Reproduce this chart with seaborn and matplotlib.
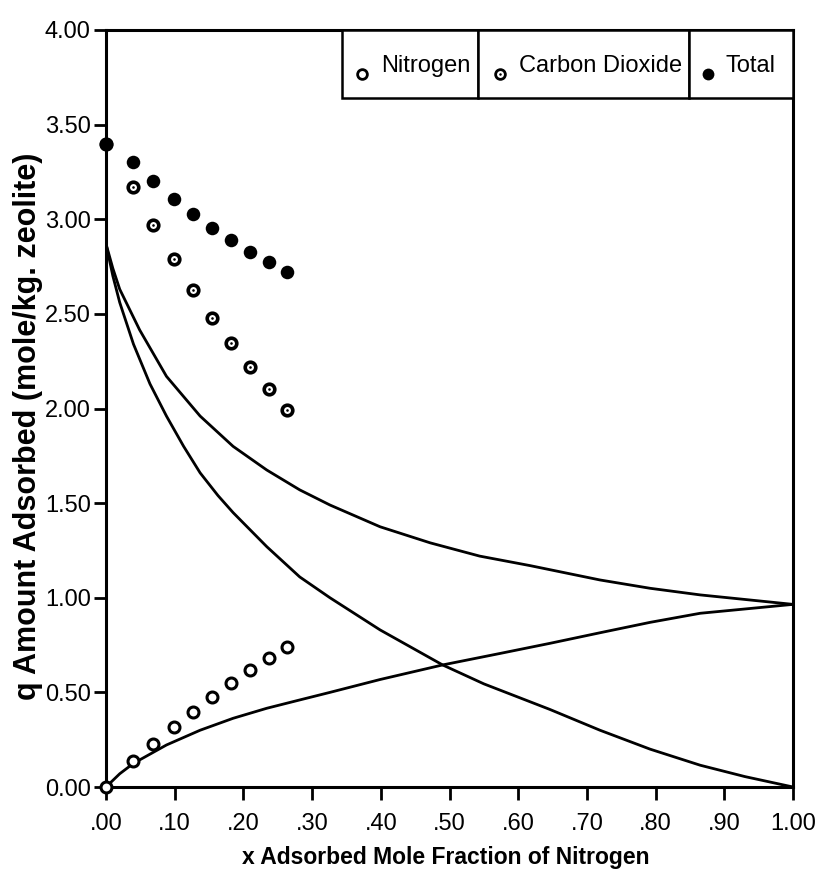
import matplotlib
matplotlib.use("Agg")
import matplotlib.pyplot as plt
import seaborn as sns
import pandas as pd
from matplotlib.patches import Rectangle

# ---- experimental points ----
x_exp = [0.0, 0.039, 0.068, 0.099, 0.127, 0.155, 0.182, 0.210, 0.237, 0.264]
q_n2_exp = [0.0, 0.136, 0.229, 0.315, 0.398, 0.477, 0.551, 0.617, 0.682, 0.740]
q_co2_exp = [3.40, 3.169, 2.970, 2.790, 2.628, 2.480, 2.346, 2.219, 2.101, 1.990]
q_total_exp = [3.40, 3.304, 3.202, 3.109, 3.026, 2.955, 2.890, 2.827, 2.772, 2.723]

# ---- predicted curves ----
x_co2_fit = [0.0, 0.01, 0.02, 0.04, 0.064, 0.088, 0.113, 0.137, 0.163, 0.185, 0.234,
             0.282, 0.326, 0.399, 0.49, 0.55, 0.646, 0.719, 0.792, 0.865, 0.93, 1.0]
q_co2_fit = [2.87, 2.70, 2.56, 2.34, 2.13, 1.96, 1.80, 1.66, 1.54, 1.45, 1.27,
             1.11, 1.00, 0.83, 0.645, 0.545, 0.41, 0.30, 0.20, 0.115, 0.055, 0.0]

x_total_fit = [0.0, 0.01, 0.02, 0.049, 0.088, 0.137, 0.185, 0.234, 0.282, 0.326, 0.399,
               0.472, 0.544, 0.617, 0.719, 0.792, 0.865, 1.0]
q_total_fit = [2.87, 2.74, 2.63, 2.415, 2.17, 1.96, 1.80, 1.675, 1.57, 1.49, 1.375,
               1.29, 1.22, 1.17, 1.094, 1.05, 1.015, 0.965]

x_n2_fit = [0.0, 0.02, 0.04, 0.088, 0.137, 0.185, 0.234, 0.282, 0.326, 0.399, 0.49,
            0.574, 0.646, 0.719, 0.792, 0.865, 1.0]
q_n2_fit = [0.0, 0.07, 0.125, 0.222, 0.30, 0.363, 0.416, 0.46, 0.50, 0.568, 0.645,
            0.706, 0.759, 0.815, 0.87, 0.918, 0.965]

# ---- axis ticks / labels ----
x_ticks = [0.0, 0.1, 0.2, 0.3, 0.4, 0.5, 0.6, 0.7, 0.8, 0.9, 1.0]
x_tick_labels = [".00", ".10", ".20", ".30", ".40", ".50", ".60", ".70", ".80", ".90", "1.00"]
y_ticks = [0.0, 0.5, 1.0, 1.5, 2.0, 2.5, 3.0, 3.5, 4.0]
y_tick_labels = ["0.00", "0.50", "1.00", "1.50", "2.00", "2.50", "3.00", "3.50", "4.00"]
legend_labels = ["Nitrogen", "Carbon Dioxide", "Total"]
x_label = "x Adsorbed Mole Fraction of Nitrogen"
y_label = "q Amount Adsorbed (mole/kg. zeolite)"

sns.set_theme(style="ticks")
plt.rcParams["font.family"] = ["Liberation Sans", "DejaVu Sans"]
plt.rcParams["axes.linewidth"] = 2.2

fig = plt.figure(figsize=(8.18, 8.81), dpi=100)
ax = fig.add_axes([106 / 818, 1 - 787 / 881, 687 / 818, 757 / 881])

# curves
for xs, qs in [(x_co2_fit, q_co2_fit), (x_total_fit, q_total_fit), (x_n2_fit, q_n2_fit)]:
    df = pd.DataFrame({"x": xs, "q": qs})
    sns.lineplot(data=df, x="x", y="q", ax=ax, color="black", linewidth=2.0,
                 estimator=None, sort=False, zorder=2)

exp = pd.DataFrame({"x": x_exp, "n2": q_n2_exp, "co2": q_co2_exp, "tot": q_total_exp})
sns.scatterplot(data=exp, x="x", y="n2", ax=ax, marker="o", s=62, facecolor="white",
                edgecolor="black", linewidth=2.2, zorder=4, clip_on=False)
sns.scatterplot(data=exp, x="x", y="co2", ax=ax, marker="o", s=58, facecolor="white",
                edgecolor="black", linewidth=2.6, zorder=4, clip_on=False)
sns.scatterplot(data=exp, x="x", y="co2", ax=ax, marker="o", s=3.5, color="black",
                linewidth=0, zorder=4.5, clip_on=False)
sns.scatterplot(data=exp, x="x", y="tot", ax=ax, marker="o", s=95, color="black",
                linewidth=0, zorder=5, clip_on=False)

ax.set_xlim(0, 1.0)
ax.set_ylim(0, 4.0)
ax.set_xticks(x_ticks)
ax.set_xticklabels(x_tick_labels)
ax.set_yticks(y_ticks)
ax.set_yticklabels(y_tick_labels)
ax.tick_params(axis="both", direction="out", length=9, width=2, labelsize=17, colors="black")
ax.tick_params(axis="x", pad=10)
ax.tick_params(axis="y", pad=2)
for sp in ax.spines.values():
    sp.set_visible(True)
    sp.set_linewidth(2.2)
    sp.set_color("black")

ax.set_xlabel(x_label, fontsize=16.5, fontweight="bold", color="black")
ax.set_ylabel(y_label, fontsize=22, fontweight="bold", color="black")
ax.xaxis.set_label_coords(0.494, -0.078)
ax.yaxis.set_label_coords(-0.092, 0.477)

# ---- boxed legend ----
cells = [(0.343, 0.541), (0.541, 0.848), (0.848, 1.0)]
y0, y1 = 0.9098, 1.0
marker_x = [0.372, 0.5735, 0.877]
text_x = [0.400, 0.601, 0.902]
for (a, b) in cells:
    ax.add_patch(Rectangle((a, y0), b - a, y1 - y0, transform=ax.transAxes,
                           facecolor="white", edgecolor="black", linewidth=1.8,
                           zorder=6, clip_on=False))
my = 0.942
ax.plot([marker_x[0]], [my], marker="o", ms=7, mfc="white", mec="black", mew=2.0,
        transform=ax.transAxes, zorder=7, clip_on=False)
ax.plot([marker_x[1]], [my], marker="o", ms=7, mfc="white", mec="black", mew=2.0,
        transform=ax.transAxes, zorder=7, clip_on=False)
ax.plot([marker_x[1]], [my], marker="o", ms=1.8, mfc="black", mec="black", mew=0,
        transform=ax.transAxes, zorder=8, clip_on=False)
ax.plot([marker_x[2]], [my], marker="o", ms=8.5, mfc="black", mec="black", mew=0,
        transform=ax.transAxes, zorder=7, clip_on=False)
for tx, lab in zip(text_x, legend_labels):
    ax.text(tx, 0.952, lab, transform=ax.transAxes, fontsize=17, ha="left",
            va="center", color="black", zorder=8)

fig.savefig("out.png", dpi=100, facecolor="white")
